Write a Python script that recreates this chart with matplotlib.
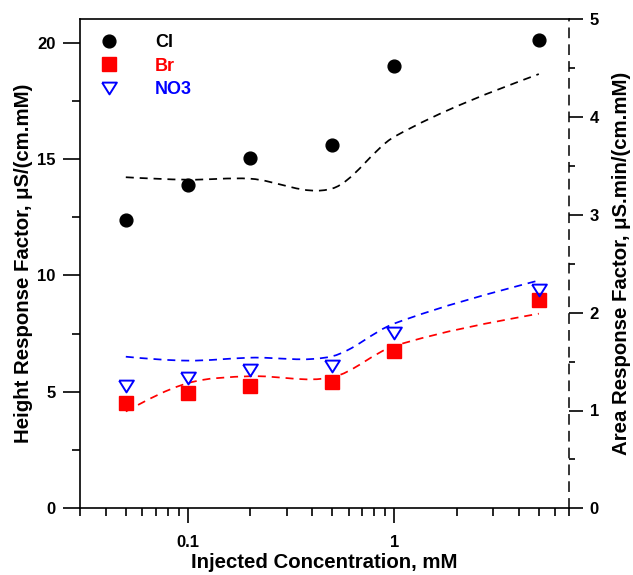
import numpy as np
import matplotlib
matplotlib.use("Agg")
import matplotlib.pyplot as plt
from matplotlib.path import Path
from matplotlib.patches import PathPatch
from matplotlib.lines import Line2D
from matplotlib.ticker import LogLocator, NullFormatter, MultipleLocator, FixedLocator, FixedFormatter

# ---------------- data ----------------
conc = [0.05, 0.1, 0.2, 0.5, 1.0, 5.0]
height_cl = [12.40, 13.89, 15.03, 15.61, 19.01, 20.12]
height_br = [4.51, 4.97, 5.27, 5.44, 6.77, 8.95]
height_no3 = [5.25, 5.58, 5.94, 6.11, 7.54, 9.38]
area_cl = [3.385, 3.36, 3.37, 3.27, 3.80, 4.44]
area_br = [0.99, 1.28, 1.35, 1.34, 1.66, 1.99]
area_no3 = [1.55, 1.51, 1.54, 1.555, 1.89, 2.33]
series_names = ["Cl", "Br", "NO3"]
x_tick_vals = [0.1, 1]
x_tick_labels = ["0.1", "1"]

plt.rcParams["font.family"] = ["Liberation Sans", "DejaVu Sans"]
plt.rcParams["font.weight"] = "bold"
plt.rcParams["axes.linewidth"] = 1.2


def smooth_path(x, y):
    """Smooth Hermite/Bezier path through the data points (log-x space)."""
    x = np.asarray(x, float)
    y = np.asarray(y, float)
    u = np.log10(x)
    d = np.diff(y) / np.diff(u)
    m = np.empty_like(y)
    m[1:-1] = (y[2:] - y[:-2]) / (u[2:] - u[:-2])
    m[0] = 1.5 * d[0] - 0.5 * m[1]
    m[-1] = 1.5 * d[-1] - 0.5 * m[-2]
    verts = [(x[0], y[0])]
    codes = [Path.MOVETO]
    for i in range(len(u) - 1):
        h = u[i + 1] - u[i]
        verts += [(10 ** (u[i] + h / 3), y[i] + m[i] * h / 3),
                  (10 ** (u[i + 1] - h / 3), y[i + 1] - m[i + 1] * h / 3),
                  (x[i + 1], y[i + 1])]
        codes += [Path.CURVE4] * 3
    return Path(verts, codes)


fig = plt.figure(figsize=(6.33, 5.75), dpi=100)
ax = fig.add_axes([80 / 633, 1 - 508.3 / 575, 489 / 633, 489 / 575])
ax2 = ax.twinx()

ax.set_xscale("log")
ax.set_xlim(0.03, 7)
ax.set_ylim(0, 21)
ax2.set_ylim(0, 5)

tri = [(-1, 0.8), (1, 0.8), (0, -0.8), (-1, 0.8)]

# area response curves (right axis)
dash = (0, (4.6, 3.4))
for yv, col in [(area_cl, "black"), (area_br, "#ff0000"), (area_no3, "#0000ff")]:
    p = PathPatch(smooth_path(conc, yv), fill=False, edgecolor=col,
                  linewidth=1.25, linestyle=dash)
    ax2.add_patch(p)

# height response markers (left axis)
ax.plot(conc, height_cl, linestyle="none", marker="o", ms=9.2,
        color="black", zorder=5)
ax.plot(conc, height_br, linestyle="none", marker="s", ms=9.4,
        color="#ff0000", zorder=5)
ax.plot(conc, height_no3, linestyle="none", marker=tri, ms=10.6,
        markerfacecolor="none", markeredgecolor="#0000ff", mew=1.4, zorder=6)

ax.set_zorder(ax2.get_zorder() + 1)
ax.patch.set_visible(False)

# spines
ax.spines["right"].set_visible(False)
for s in ["left", "top", "bottom"]:
    ax2.spines[s].set_visible(False)
ax2.spines["right"].set_linestyle((0, (6, 5)))
ax2.spines["right"].set_linewidth(1.1)

# ticks
ax.xaxis.set_major_locator(FixedLocator(x_tick_vals))
ax.xaxis.set_major_formatter(FixedFormatter(x_tick_labels))
ax.xaxis.set_minor_locator(LogLocator(base=10, subs=np.arange(2, 10), numticks=20))
ax.xaxis.set_minor_formatter(NullFormatter())
ax.yaxis.set_major_locator(MultipleLocator(5))
ax.yaxis.set_minor_locator(MultipleLocator(2.5))
ax2.yaxis.set_major_locator(MultipleLocator(1))
ax2.yaxis.set_minor_locator(MultipleLocator(0.5))

ax.tick_params(axis="x", which="major", direction="out", length=11, width=1.2,
               labelsize=12, pad=8)
ax.tick_params(axis="x", which="minor", direction="out", length=5.5, width=1.2)
ax.tick_params(axis="y", which="major", direction="out", length=12, width=1.2,
               labelsize=12, pad=5.5)
ax.tick_params(axis="y", which="minor", direction="out", length=6, width=1.2)
ax2.tick_params(axis="y", which="major", direction="out", length=10, width=1.2,
                labelsize=12, pad=5)
ax2.tick_params(axis="y", which="minor", direction="out", length=4.5, width=1.2)

ax.set_xlabel("Injected Concentration, mM", fontsize=14.7, fontweight="bold")
ax.set_ylabel("Height Response Factor, μS/(cm.mM)", fontsize=14.7,
              fontweight="bold")
ax2.set_ylabel("Area Response Factor, μS.min/(cm.mM)", fontsize=14.7,
               fontweight="bold")
ax.xaxis.set_label_coords(0.5, -0.0914)
ax.yaxis.set_label_coords(-0.096, 0.5)
ax2.yaxis.set_label_coords(1.088, 0.5)

# legend
handles = [
    Line2D([], [], linestyle="none", marker="o", ms=9.2, color="black"),
    Line2D([], [], linestyle="none", marker="s", ms=9.4, color="#ff0000"),
    Line2D([], [], linestyle="none", marker=tri, ms=10.6, markerfacecolor="none",
           markeredgecolor="#0000ff", mew=1.4),
]
leg = ax.legend(handles, series_names, loc="upper left",
                bbox_to_anchor=(0.0225, 0.970), frameon=False,
                prop={"size": 13, "weight": "bold"},
                labelcolor=["black", "#ff0000", "#0000ff"],
                handlelength=2.0, handletextpad=1.55, labelspacing=0.37,
                borderpad=0, borderaxespad=0)

fig.savefig("out.png", dpi=100)
